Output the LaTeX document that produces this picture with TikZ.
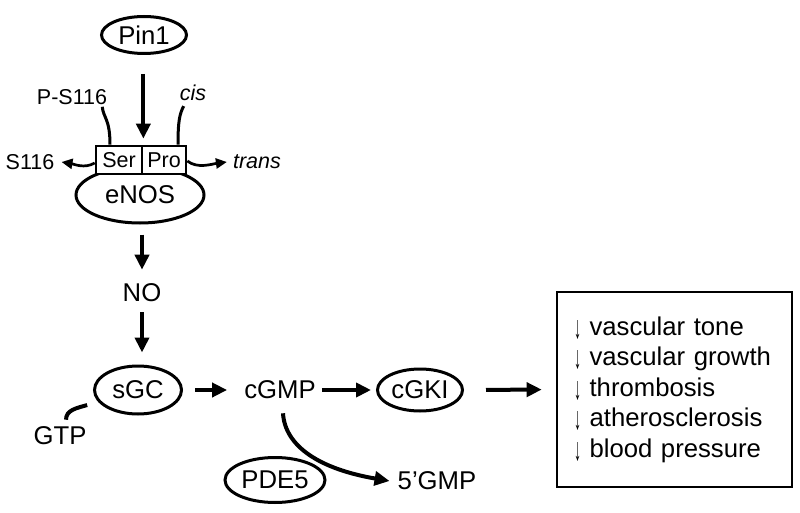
\documentclass[tikz,border=0pt]{standalone}
\usepackage{fontspec}
\setmainfont{Liberation Sans}
\usetikzlibrary{arrows.meta,shapes.geometric,calc}
\newcommand{\dnarrow}{\raisebox{-3pt}{\resizebox{7pt}{18pt}{↓}}}
\begin{document}
\begin{tikzpicture}[x=1pt,y=-1pt,
  big/.style={font=\fontsize{25.7}{30.5}\selectfont},
  small/.style={font=\fontsize{21.5}{25}\selectfont},
  lbl/.style={inner sep=0pt,big},
  slbl/.style={inner sep=0pt,small},
  oval/.style={ellipse,draw,line width=3pt,inner sep=0pt,big},
  site/.style={rectangle,draw,fill=white,line width=2.7pt,inner sep=0pt,minimum height=28pt,small},
  flow/.style={line width=4pt,-{Triangle[length=15pt,width=14pt]}},
  thinflow/.style={line width=2.7pt,-{Triangle[length=11pt,width=10pt]}},
  hookline/.style={line width=3pt},
  ]
\useasboundingbox (0,0) rectangle (800,513);
% top part
\node[oval,minimum width=85pt,minimum height=37pt] (pin) at (144,35) {Pin1};
\node[oval,minimum width=128pt,minimum height=56pt] (enos) at (140,195) {eNOS};
\node[site,minimum width=46pt] (ser) at (119,160) {Ser};
\node[site,minimum width=44pt] (pro) at (164,160) {Pro};
\node[slbl] (ps) at (72,97) {P-S116};
\node[slbl] (cis) at (193,93) {\itshape cis};
\node[slbl] (s116) at (30,162) {S116};
\node[slbl] (trans) at (257,162) {\itshape trans};
\draw[flow,shorten <=19pt,shorten >=6pt] (pin.south -| ser.north east) -- (ser.north east);
\draw[hookline] ([xshift=-5pt,yshift=-2pt]ps.south east) .. controls +(1,11) and +(0,-26) .. ([xshift=-9pt]ser.north);
\draw[hookline] ([xshift=4pt,yshift=-5pt]cis.south west) .. controls +(-4,8) and +(0,-24) .. ([xshift=14pt]pro.north);
\draw[thinflow] ([yshift=-3pt]ser.west) .. controls +(-10,6) and +(12,2) .. ([xshift=7pt]s116.east);
\draw[thinflow] ([yshift=-1pt]pro.east) .. controls +(10,8) and +(-15,2) .. ([xshift=-6pt]trans.west);
% middle
\node[lbl] (no) at (142,293) {NO};
\draw[flow,shorten <=10pt,shorten >=14pt] (enos.south -| no.north) -- (no.north);
\node[oval,minimum width=87pt,minimum height=48pt] (sgc) at (138,390) {sGC};
\draw[flow,shorten <=10pt,shorten >=12pt] (no.south) -- (no.south |- sgc.north);
\node[lbl] (gtp) at (60,436) {GTP};
\draw[line width=4pt] ([xshift=6pt,yshift=7pt]gtp.north) .. controls +(0,-10) and +(-10,3) .. ([xshift=-19pt,yshift=3pt]sgc.south west);
\node[lbl] (cgmp) at (280,390) {cGMP};
\draw[flow,shorten <=12pt,shorten >=17pt] (sgc.east) -- (cgmp.west);
\node[oval,minimum width=85pt,minimum height=42pt] (cgki) at (420,390) {cGKI};
\draw[flow,shorten <=6pt,shorten >=5pt] (cgmp.east) -- (cgki.west);
\node[draw,line width=2.6pt,minimum width=235pt,minimum height=195pt,text width=201pt,inner xsep=17pt,align=left,big] (fx) at (674.5,389.5)
 {\dnarrow\ vascular tone\\
  \dnarrow\ vascular growth\\
  \dnarrow\ thrombosis\\
  \dnarrow\ atherosclerosis\\
  \dnarrow\ blood pressure};
\draw[flow,shorten <=22pt,shorten >=14pt] (cgki.east) -- (fx.west);
% bottom
\node[oval,minimum width=100pt,minimum height=45pt] (pde) at (275,480) {PDE5};
\node[lbl] (gmp5) at (437,481) {5’GMP};
\draw[flow] ([xshift=3pt,yshift=-14pt]cgmp.south) .. controls +(2,33) and +(-70,-12) .. ([xshift=-8pt]gmp5.west);
\end{tikzpicture}
\end{document}
